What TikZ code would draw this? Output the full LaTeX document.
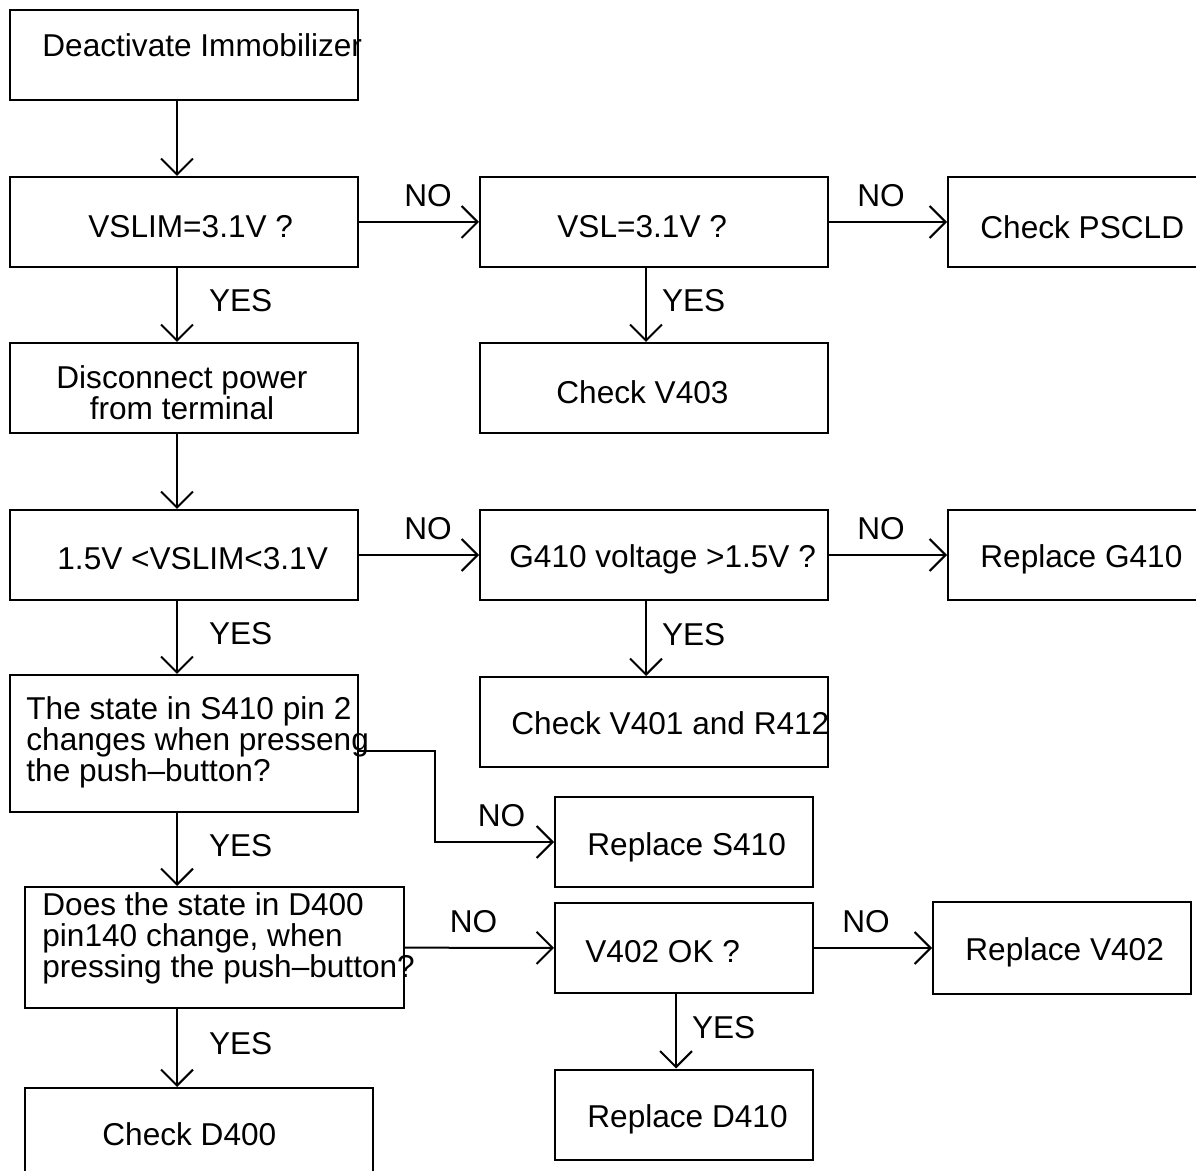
\documentclass[tikz,border=0pt]{standalone}
\usepackage{fontspec}
\setmainfont{Liberation Sans}
\usetikzlibrary{arrows.meta}

\begin{document}
\begin{tikzpicture}[x=0.5pt, y=-0.5pt,
  every node/.style={font=\fontsize{15.8}{15.5}\selectfont, inner sep=0pt},
  box/.style={draw, line width=1pt, minimum width=174pt, minimum height=45pt},
  smallbox/.style={box, minimum width=129pt},
  txt/.style={anchor=west, align=left},
  arr/.style={line width=1pt, -{Straight Barb[length=8pt, width=16pt]}},
  yes/.style={midway, right=15.5pt, yshift=2pt},
  yesR/.style={midway, right=7.5pt, yshift=2pt},
  no/.style={midway, above=7pt}]
  \clip (0,0) rectangle (1196,1171);

  % left column
  \node[box] (deact) at (184,55) {};
  \node[txt] (deact-t) at (42,45) {Deactivate Immobilizer};
  \node[box] (vslim) at (184,222) {};
  \node[txt] (vslim-t) at (88,227) {VSLIM=3.1V ?};
  \node[box] (disc) at (184,388) {};
  \node[align=center] (disc-t) at (182,393) {Disconnect power\\from terminal};
  \node[box] (v15) at (184,555) {};
  \node[txt] (v15-t) at (57,559) {1.5V <VSLIM<3.1V};
  \node[box, minimum height=68.5pt] (s410) at (184,743.5) {};
  \node[txt] (s410-t) at (26,742) {The state in S410 pin 2\\changes when presseng\\the push–button?};
  \node[box, minimum width=189.5pt, minimum height=60.5pt] (d400) at (214.5,947.5) {};
  \node[txt] (d400-t) at (42,938) {Does the state in D400\\pin140 change, when\\pressing the push–button?};
  \node[box] (chkd) at (199,1133) {};
  \node[txt] (chkd-t) at (102,1134) {Check D400};

  % middle column
  \node[box] (vsl) at (654,222) {};
  \node[txt] (vsl-t) at (557,227) {VSL=3.1V ?};
  \node[box] (v403) at (654,388) {};
  \node[txt] (v403-t) at (556,392) {Check V403};
  \node[box] (g410) at (654,555) {};
  \node[txt] (g410-t) at (509,559) {G410 voltage >1.5V ?};
  \node[box] (v401) at (654,722) {};
  \node[txt] (v401-t) at (511,723) {Check V401 and R412};
  \node[smallbox] (rs410) at (684,842) {};
  \node[txt] (rs410-t) at (587,847) {Replace S410};
  \node[smallbox] (v402) at (684,948) {};
  \node[txt] (v402-t) at (585,952) {V402 OK ?};
  \node[smallbox] (rd410) at (684,1114.5) {};
  \node[txt] (rd410-t) at (587,1119) {Replace D410};

  % right column
  \node[box] (pscld) at (1122,222) {};
  \node[txt] (pscld-t) at (980,227) {Check PSCLD};
  \node[box] (rg410) at (1122,555) {};
  \node[txt] (rg410-t) at (980,559) {Replace G410};
  \node[smallbox, minimum height=46pt] (rv402) at (1062,948) {};
  \node[txt] (rv402-t) at (965,952) {Replace V402};

  % connectors
  \draw[arr] ([xshift=-3.5pt]deact.south) -- ([xshift=-3.5pt]vslim.north);
  \draw[arr] (vslim) -- node[no, xshift=4.5pt]{NO} (vsl);
  \draw[arr] (vsl) -- node[no, xshift=-3.5pt]{NO} (pscld);
  \draw[arr] ([xshift=-3.5pt]vslim.south) -- node[yes]{YES} ([xshift=-3.5pt]disc.north);
  \draw[arr] ([xshift=-4pt]vsl.south) -- node[yesR]{YES} ([xshift=-4pt]v403.north);
  \draw[arr] ([xshift=-3.5pt]disc.south) -- ([xshift=-3.5pt]v15.north);
  \draw[arr] (v15) -- node[no, xshift=4.5pt]{NO} (g410);
  \draw[arr] (g410) -- node[no, xshift=-3.5pt]{NO} (rg410);
  \draw[arr] ([xshift=-3.5pt]v15.south) -- node[yes]{YES} ([xshift=-3.5pt]s410.north);
  \draw[arr] ([xshift=-4pt]g410.south) -- node[yesR]{YES} ([xshift=-4pt]v401.north);
  \draw[arr] ([yshift=-3.75pt]s410.east) -- ++(76,0) |- node[pos=0.75, above=7pt, xshift=3.5pt]{NO} (rs410.west);
  \draw[arr] ([xshift=-3.5pt]s410.south) -- node[yes]{YES} ([xshift=-3.5pt]s410.south |- d400.north);
  \draw[arr] (d400) -- node[no, xshift=-3pt]{NO} (v402);
  \draw[arr] (v402) -- node[no, xshift=-3.5pt]{NO} (rv402);
  \draw[arr] ([xshift=-4pt]v402.south) -- node[yesR]{YES} ([xshift=-4pt]rd410.north);
  \draw[arr] ([xshift=-3.5pt]s410.south |- d400.south) -- node[yes]{YES} ([xshift=-3.5pt]s410.south |- chkd.north);
\end{tikzpicture}
\end{document}
